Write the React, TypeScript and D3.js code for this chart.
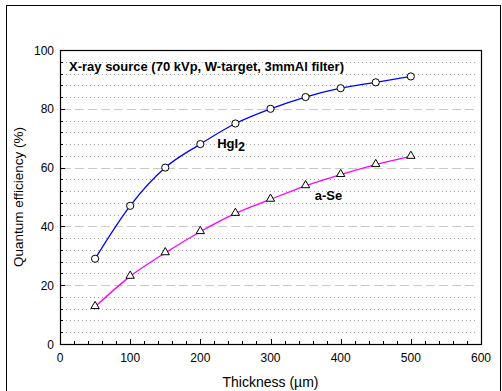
import { useEffect, useRef } from "react";
import * as d3 from "d3";

const thickness = [50, 100, 150, 200, 250, 300, 350, 400, 450, 500];
const hgi2 = [29, 47, 60, 68, 75, 80, 84, 87, 89, 91];
const aSe = [12.7, 23, 31, 38.2, 44.4, 49.2, 53.8, 57.6, 61, 63.8];
const xTicks = [0, 100, 200, 300, 400, 500, 600];
const yTicks = [0, 20, 40, 60, 80, 100];

const FONT = "'Liberation Sans', Arial, sans-serif";

export default function App ()
{
    const svgRef = useRef<SVGSVGElement>( null );

    useEffect( () =>
    {
        if ( !svgRef.current ) return;
        const svg = d3.select( svgRef.current );
        svg.selectAll( "*" ).remove();

        const W = 502, H = 391;
        const m = { top: 50, right: 21, bottom: 47, left: 60 };
        const w = W - m.left - m.right;
        const h = H - m.top - m.bottom;

        svg.append( "rect" ).attr( "x", 0 ).attr( "y", 0 ).attr( "width", W ).attr( "height", H ).attr( "fill", "#fff" );
        // outer frame
        svg.append( "rect" ).attr( "x", 6.5 ).attr( "y", 5.5 ).attr( "width", 494 ).attr( "height", 400 )
            .attr( "fill", "none" ).attr( "stroke", "#000" ).attr( "stroke-width", 1 );

        const g = svg.append( "g" ).attr( "transform", `translate(${ m.left },${ m.top })` );
        const x = d3.scaleLinear().domain( [ 0, 600 ] ).range( [ 0, w ] );
        const y = d3.scaleLinear().domain( [ 0, 100 ] ).range( [ h, 0 ] );

        // Grid: minor dotted every 4, major dashed every 20
        const minor = d3.range( 4, 100, 4 ).filter( ( v ) => v % 20 !== 0 );
        g.append( "g" ).selectAll( "line" ).data( minor ).join( "line" )
            .attr( "x1", 2 ).attr( "x2", w - 3 )
            .attr( "y1", ( d ) => Math.round( y( d ) ) + 0.5 ).attr( "y2", ( d ) => Math.round( y( d ) ) + 0.5 )
            .attr( "stroke", "#a0a0a0" ).attr( "stroke-width", 1 ).attr( "stroke-dasharray", "1,3" );
        g.append( "g" ).selectAll( "line" ).data( [ 20, 40, 60, 80 ] ).join( "line" )
            .attr( "x1", 2 ).attr( "x2", w - 3 )
            .attr( "y1", ( d ) => Math.round( y( d ) ) + 0.5 ).attr( "y2", ( d ) => Math.round( y( d ) ) + 0.5 )
            .attr( "stroke", "#c8c8c8" ).attr( "stroke-width", 1 ).attr( "stroke-dasharray", "9,4" );

        // Plot frame
        g.append( "rect" ).attr( "x", 0.5 ).attr( "y", 0.5 ).attr( "width", w ).attr( "height", h )
            .attr( "fill", "none" ).attr( "stroke", "#000" ).attr( "stroke-width", 1.2 );

        // X ticks (inward)
        const xMinor = d3.range( 0, 601, 20 );
        g.append( "g" ).selectAll( "line" ).data( xMinor ).join( "line" )
            .attr( "x1", ( d ) => Math.round( x( d ) ) + 0.5 ).attr( "x2", ( d ) => Math.round( x( d ) ) + 0.5 )
            .attr( "y1", h ).attr( "y2", ( d ) => h - ( d % 100 === 0 ? 5 : 3 ) )
            .attr( "stroke", "#000" );
        // Y ticks (inward)
        const yMinor = d3.range( 0, 101, 4 );
        g.append( "g" ).selectAll( "line" ).data( yMinor ).join( "line" )
            .attr( "y1", ( d ) => Math.round( y( d ) ) + 0.5 ).attr( "y2", ( d ) => Math.round( y( d ) ) + 0.5 )
            .attr( "x1", 0 ).attr( "x2", ( d ) => d % 20 === 0 ? 5 : 3 )
            .attr( "stroke", "#000" );

        g.append( "g" ).selectAll( "text" ).data( xTicks ).join( "text" )
            .attr( "x", ( d ) => x( d ) ).attr( "y", h + 18 ).attr( "text-anchor", "middle" )
            .style( "font-size", "12px" ).style( "font-family", FONT ).text( ( d ) => d );
        g.append( "g" ).selectAll( "text" ).data( yTicks ).join( "text" )
            .attr( "x", -6 ).attr( "y", ( d ) => y( d ) + 4.5 ).attr( "text-anchor", "end" )
            .style( "font-size", "12px" ).style( "font-family", FONT ).text( ( d ) => d );

        // Curves
        const line = d3.line<number>().x( ( _, i ) => x( thickness[ i ] ) ).y( ( d ) => y( d ) ).curve( d3.curveMonotoneX );
        g.append( "path" ).datum( hgi2 ).attr( "d", line ).attr( "fill", "none" ).attr( "stroke", "#0000ff" ).attr( "stroke-width", 1.3 );
        g.append( "path" ).datum( aSe ).attr( "d", line ).attr( "fill", "none" ).attr( "stroke", "#ff00ff" ).attr( "stroke-width", 1.3 );

        g.append( "g" ).selectAll( "circle" ).data( hgi2 ).join( "circle" )
            .attr( "cx", ( _, i ) => x( thickness[ i ] ) ).attr( "cy", ( d ) => y( d ) ).attr( "r", 3.6 )
            .attr( "fill", "#fff" ).attr( "stroke", "#000" ).attr( "stroke-width", 1 );
        const tri = d3.symbol().type( d3.symbolTriangle ).size( 30 );
        g.append( "g" ).selectAll( "path" ).data( aSe ).join( "path" )
            .attr( "d", tri ).attr( "transform", ( d, i ) => `translate(${ x( thickness[ i ] ) },${ y( d ) - 0.5 })` )
            .attr( "fill", "#fff" ).attr( "stroke", "#000" ).attr( "stroke-width", 1 );

        // Annotations
        g.append( "text" ).attr( "x", 9 ).attr( "y", 21 ).style( "font-size", "13px" ).style( "font-weight", "bold" )
            .style( "font-family", FONT ).text( "X-ray source (70 kVp, W-target, 3mmAl filter)" );
        const hg = g.append( "text" ).attr( "x", x( 224 ) ).attr( "y", y( 66.5 ) ).style( "font-size", "13px" ).style( "font-weight", "bold" )
            .style( "font-family", FONT );
        hg.append( "tspan" ).text( "HgI" );
        hg.append( "tspan" ).attr( "dy", 3 ).style( "font-size", "12px" ).text( "2" );
        g.append( "text" ).attr( "x", x( 363 ) ).attr( "y", y( 49 ) ).style( "font-size", "13px" ).style( "font-weight", "bold" )
            .style( "font-family", FONT ).text( "a-Se" );

        // Axis titles
        svg.append( "text" ).attr( "x", m.left + w / 2 ).attr( "y", 387 ).attr( "text-anchor", "middle" )
            .style( "font-size", "14px" ).style( "font-family", FONT ).text( "Thickness (\u00b5m)" );
        svg.append( "text" ).attr( "transform", `translate(23,${ m.top + h / 2 }) rotate(-90)` ).attr( "text-anchor", "middle" )
            .style( "font-size", "13.5px" ).style( "font-family", FONT ).text( "Quantum efficiency (%)" );
    }, [] );

    return (
        <svg ref={ svgRef } width={ 502 } height={ 391 } style={ { position: "absolute", left: 0, top: 0, display: "block" } } />
    );
}
